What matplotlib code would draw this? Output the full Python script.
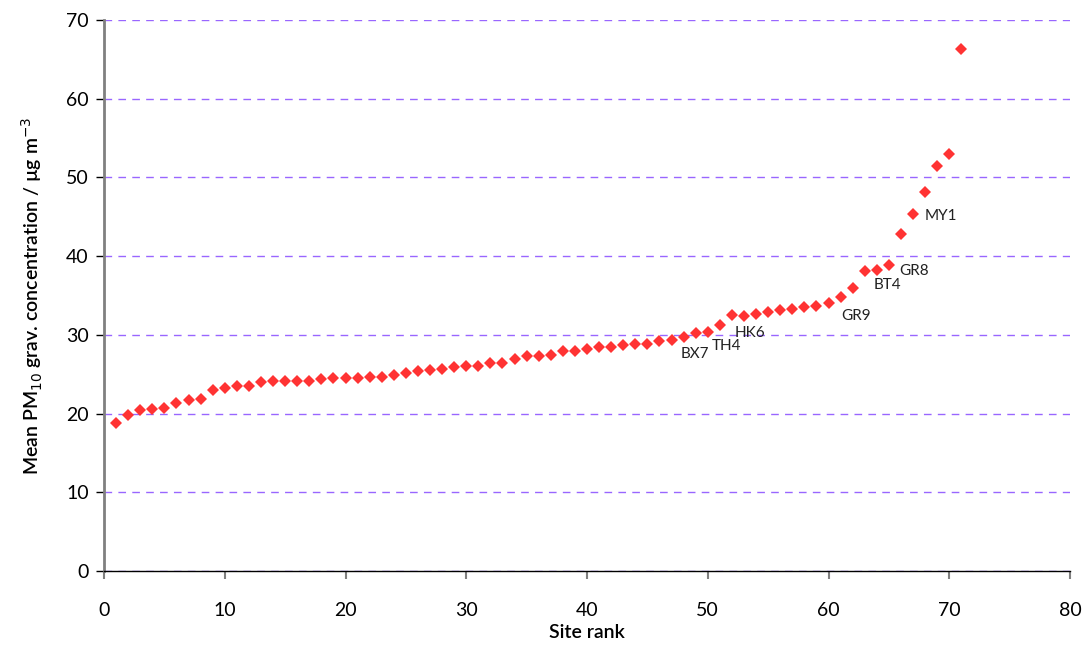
import matplotlib.pyplot as plt
import numpy as np

plt.rcParams['font.family'] = ['Lato', 'DejaVu Sans']

# mean PM10 per site, sorted by rank
rank = np.arange(1, 72)
pm10 = [18.8, 19.8, 20.5, 20.6, 20.75, 21.3, 21.7, 21.8, 23.0, 23.3,
        23.5, 23.5, 24.0, 24.1, 24.2, 24.2, 24.2, 24.4, 24.5, 24.5,
        24.5, 24.6, 24.7, 24.9, 25.2, 25.4, 25.6, 25.7, 25.9, 26.0,
        26.0, 26.4, 26.4, 26.9, 27.3, 27.35, 27.5, 28.0, 28.0, 28.2,
        28.4, 28.5, 28.7, 28.8, 28.9, 29.2, 29.4, 29.7, 30.2, 30.4,
        31.2, 32.5, 32.4, 32.6, 32.9, 33.2, 33.3, 33.6, 33.7, 34.1,
        34.8, 36.0, 38.1, 38.2, 38.9, 42.8, 45.4, 48.2, 51.5, 53.0,
        66.3]

# site labels and where the text sits
site_names = ['BX7', 'TH4', 'HK6', 'GR9', 'BT4', 'GR8', 'MY1']
label_x = [47.76, 50.33, 52.2, 61.04, 63.7, 65.84, 67.93]
label_y = [27.57, 28.6, 30.3, 32.4, 36.3, 38.1, 45.1]

fig = plt.figure(figsize=(10.9, 6.46), dpi=100)
ax = fig.add_axes([0.0954, 0.1161, 0.8863, 0.8529])

ax.plot(rank, pm10, linestyle='none', marker='D', markersize=6.5,
        color='#FF3333', markeredgewidth=0, zorder=3)

for name, tx, ty in zip(site_names, label_x, label_y):
    ax.text(tx, ty, name, fontsize=11, va='center', ha='left', color='#222222')

ax.set_xlim(0, 80)
ax.set_ylim(0, 70)
ax.set_xticks(range(0, 81, 10))
ax.set_yticks(range(0, 71, 10))

ax.yaxis.grid(True, color='#9966FF', linestyle=(0, (5.5, 4.5)), linewidth=1)
ax.set_axisbelow(True)

for s in ['top', 'right']:
    ax.spines[s].set_visible(False)
ax.spines['left'].set_color('#808080')
ax.spines['left'].set_linewidth(2)
ax.spines['bottom'].set_color('black')
ax.spines['bottom'].set_linewidth(1)

ax.tick_params(axis='y', length=6, width=1, color='black', labelsize=14, pad=5)
ax.tick_params(axis='x', length=6, width=1.5, color='#808080', labelsize=14, pad=16)

ax.set_xlabel('Site rank', fontsize=14, fontweight='semibold', labelpad=4)
ax.set_ylabel('Mean PM$_{10}$ grav. concentration / µg m$^{-3}$',
              fontsize=14, fontweight='semibold', labelpad=15)

fig.savefig('out.png', dpi=100)
